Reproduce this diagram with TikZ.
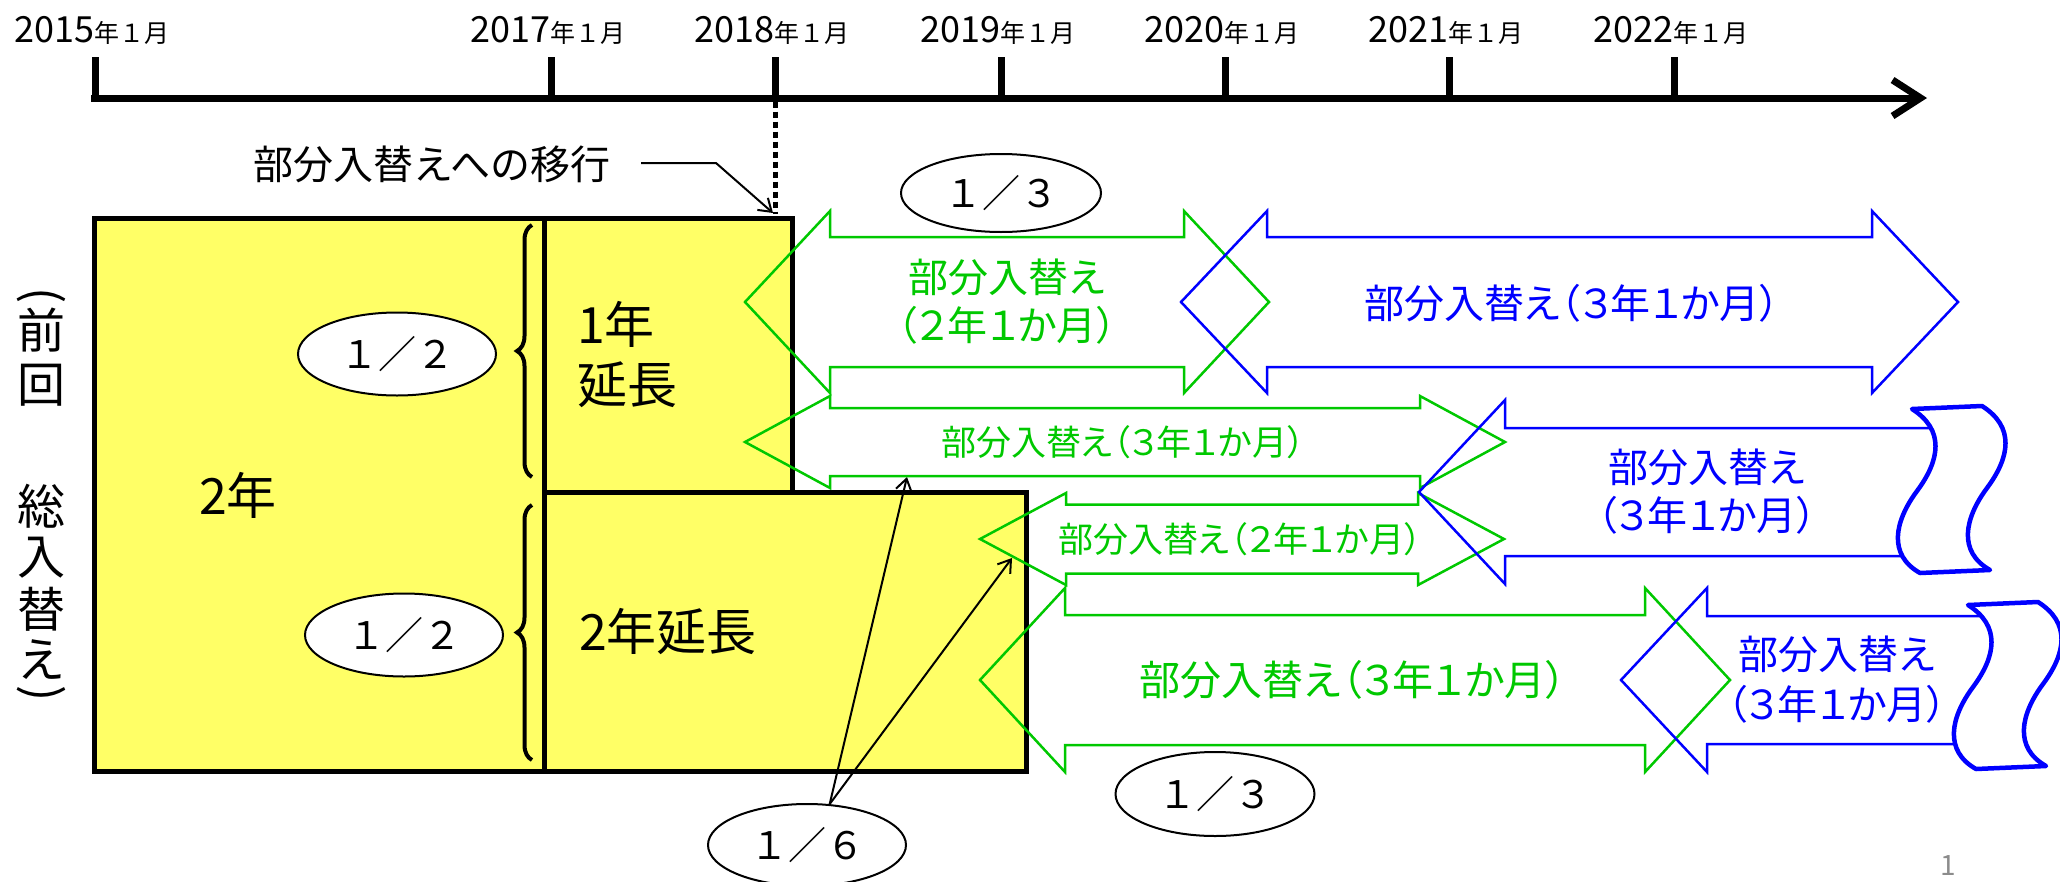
\documentclass[tikz,border=0pt]{standalone}
\usepackage{graphicx}
\usepackage{fontspec}
\setmainfont{Noto Sans CJK JP}
\newfontfamily\pf[RawFeature=+palt]{Noto Sans CJK JP}
\usetikzlibrary{shapes.geometric,arrows.meta,decorations.pathreplacing}
\definecolor{yel}{RGB}{255,255,102}
\definecolor{grn}{RGB}{0,200,0}
\definecolor{blu}{RGB}{0,0,255}
\newcommand\fs[1]{\fontsize{#1}{#1}\selectfont}
% style, x1, x2, cy, head length, head half height, shaft half height
\newcommand\dblarr[7]{%
  \draw[#1] (#2,#4) -- ({#2+#5},{#4-#6}) -- ({#2+#5},{#4-#7}) -- ({#3-#5},{#4-#7})
    -- ({#3-#5},{#4-#6}) -- (#3,#4) -- ({#3-#5},{#4+#6}) -- ({#3-#5},{#4+#7})
    -- ({#2+#5},{#4+#7}) -- ({#2+#5},{#4+#6}) -- cycle;}
\begin{document}
\begin{tikzpicture}[x=1pt,y=-1pt,
  bx/.style={fill=yel,draw=black,line width=5pt},
  brc/.style={draw=black,line width=4pt,decorate,decoration={brace,amplitude=15pt}},
  ell/.style={ellipse,draw=black,fill=white,line width=2pt,inner sep=0pt,font=\fs{38}},
  ptr/.style={draw=black,line width=2pt,-{Straight Barb[length=12pt,width=16pt]}},
  garr/.style={draw=grn,line width=2.5pt,line join=miter},
  barr/.style={draw=blu,line width=2.5pt,line join=miter},
  wv/.style={draw=blu,fill=white,line width=4.5pt,line join=round},
  axisln/.style={draw=black,line width=7pt,-{Straight Barb[length=28pt,width=36pt]}},
  tickln/.style={draw=black,line width=7pt},
  dotln/.style={draw=black,line width=5pt,dash pattern=on 6pt off 4pt},
  bigtxt/.style={font=\fs{50},inner sep=0pt},
  gtxt/.style={text=grn,inner sep=0pt,align=center},
  btxt/.style={text=blu,inner sep=0pt,align=center},
  vtxt/.style={font=\fs{48},inner sep=0pt}]
\useasboundingbox (0,0) rectangle (2060,881);
\clip (0,0) rectangle (2060,881);

% ---------- boxes ----------
\draw[bx] (94,218) rectangle (544,771);
\draw[bx] (544,218) rectangle (792,492);
\draw[bx] (544,492) rectangle (1026,771);

% braces
\draw[brc] (532,477) -- (532,225);
\draw[brc] (532,760) -- (532,505);

% ---------- time axis ----------
\coordinate (ax0) at (91,98);
\coordinate (ax1) at (1927,98);
\draw[axisln] (ax0) -- (ax1);
\foreach \n/\x in {2015/95,2017/551,2018/775,2019/1001,2020/1225,2021/1449,2022/1674}{
  \coordinate (t\n) at (\x,101.5);
  \draw[tickln] (\x,57) -- (t\n);
  \node[anchor=base,inner sep=0pt] (l\n) at (\x-3,42) {\fs{36}\n\fs{25}年１月};
}
\coordinate (dotend) at (775,214);
\draw[dotln] (t2018) -- (dotend);

% callout
\node[inner sep=0pt,font=\fs{40}] (mig) at (432,164) {部分入替えへの移行};
\coordinate (mA) at (641,163);
\coordinate (mB) at (716,163);
\coordinate (mT) at (773,213);
\draw[ptr] (mA) -- (mB) -- (mT);

% box texts
\node[bigtxt] (two) at (238,495) {2年};
\node[bigtxt,font=\fontsize{50}{60}\selectfont,align=left,anchor=west] (one) at (577,355) {1年\\延長};
\node[bigtxt] (twoext) at (668,632) {2年延長};

% vertical text
\node[vtxt] (v1) at (41,296) {\rotatebox{-90}{(}};
\node[vtxt] (v2) at (41,330) {前};
\node[vtxt] (v3) at (41,385) {回};
\node[vtxt] (v4) at (41,506) {総};
\node[vtxt] (v5) at (41,558) {入};
\node[vtxt] (v6) at (41,609) {替};
\node[vtxt] (v7) at (41,660) {え};
\node[vtxt] (v8) at (41,694) {\rotatebox{-90}{)}};

% ellipses
\node[ell,minimum width=198pt,minimum height=83pt] (h1) at (397,354) {１／２};
\node[ell,minimum width=198pt,minimum height=83pt] (h2) at (404,635) {１／２};
\node[ell,minimum width=198pt,minimum height=82pt] (six) at (807,845) {１／６};
\node[ell,minimum width=200pt,minimum height=78pt] (th1) at (1001,193) {１／３};
\node[ell,minimum width=199pt,minimum height=84pt] (th2) at (1215,794) {１／３};

% pointers from 1/6
\coordinate (p1) at (907,477);
\coordinate (p2) at (1012,558);
\draw[ptr] (six.61) -- (p1);
\draw[ptr] (six.61) -- (p2);

% ---------- green arrows ----------
\dblarr{garr}{745}{1269}{302}{85}{91}{65}
\dblarr{garr}{745}{1505}{442}{85}{46}{34}
\dblarr{garr}{980}{1504}{539}{86}{46}{34.5}
\dblarr{garr}{980}{1730}{680}{85}{92}{65}

% ---------- blue arrows ----------
\dblarr{barr}{1181}{1958}{302}{86}{91}{65}
% B2: left head + wavy end
\draw[barr] (1930.6,428) -- (1505,428) -- (1505,400) -- (1419,492) -- (1505,584) -- (1505,556) -- (1902,556);
\draw[wv] (1912,409) .. controls (1945,430) and (1940,460) .. (1917,491)
  .. controls (1894,522) and (1888,555) .. (1920,573) -- (1990,570)
  .. controls (1958,552) and (1964,519) .. (1987,488)
  .. controls (2010,457) and (2015,427) .. (1982,406) -- cycle;
% B4
\draw[barr] (1981.6,616) -- (1707,616) -- (1707,588) -- (1621,680) -- (1707,772) -- (1707,744) -- (1955,744);
\begin{scope}[shift={(56,196)}]
\draw[wv] (1912,409) .. controls (1945,430) and (1940,460) .. (1917,491)
  .. controls (1894,522) and (1888,555) .. (1920,573) -- (1990,570)
  .. controls (1958,552) and (1964,519) .. (1987,488)
  .. controls (2010,457) and (2015,427) .. (1982,406) -- cycle;
\end{scope}

% ---------- arrow texts ----------
\node[gtxt,font=\pf\fontsize{40}{48}\selectfont] (g1) at (1007,302) {部分入替え\\（２年１か月）};
\node[gtxt,font=\pf\fs{35}] (g2) at (1123,442) {部分入替え（３年１か月）};
\node[gtxt,font=\pf\fs{35}] (g3) at (1240,539) {部分入替え（２年１か月）};
\node[gtxt,font=\pf\fs{41}] (g4) at (1353,680) {部分入替え（３年１か月）};
\node[btxt,font=\pf\fs{40}] (b1) at (1572,303) {部分入替え（３年１か月）};
\node[btxt,font=\pf\fontsize{40}{48}\selectfont] (b2) at (1707,492) {部分入替え\\（３年１か月）};
\node[btxt,font=\pf\fontsize{40}{50}\selectfont] (b4) at (1837,680) {部分入替え\\（３年１か月）};

% page number
\node[text=black!45,font=\fs{28},inner sep=0pt] (pg) at (1948,866) {1};
\end{tikzpicture}
\end{document}
